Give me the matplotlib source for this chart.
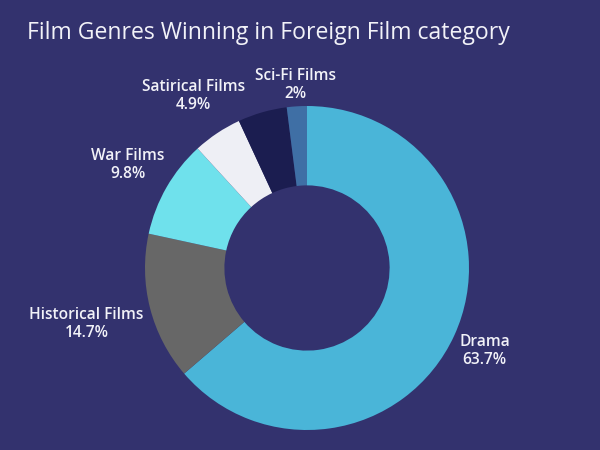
import matplotlib
matplotlib.use("Agg")
import matplotlib.pyplot as plt
import numpy as np

categories = ["Drama", "Historical Films", "War Films", "Satirical Films", "", "Sci-Fi Films"]
values = [63.7, 14.7, 9.8, 4.9, 4.9, 2.0]
pct_labels = ["63.7%", "14.7%", "9.8%", "4.9%", "", "2%"]
colors = ["#4ab5d8", "#676767", "#6fe1ec", "#eeeff5", "#1b1d50", "#3f6fa5"]

# label layout: distance from centre, angle nudge in degrees
label_dist = [1.21, 1.405, 1.275, 1.27, 1.2, 1.13]
label_nudge = [-0.3, 0, 0, -0.3, 0, 0]

BG = "#33326e"
plt.rcParams['font.family'] = ['Open Sans', 'DejaVu Sans']

fig = plt.figure(figsize=(6, 4.5), dpi=100, facecolor=BG)
ax = fig.add_axes([0, 0, 1, 1])
ax.set_facecolor(BG)

wedges, _ = ax.pie(values, colors=colors, startangle=90, counterclock=False,
                   radius=1.0, wedgeprops=dict(width=0.49, linewidth=0))

for w, cat, pct, d, nud in zip(wedges, categories, pct_labels, label_dist, label_nudge):
    if not cat:
        continue
    ang = np.deg2rad((w.theta1 + w.theta2) / 2 + nud)
    x, y = d * np.cos(ang), d * np.sin(ang)
    ax.text(x, y, f"{cat}\n{pct}", ha="center", va="center", color="#f2f2f8",
            fontsize=11.2, fontweight="semibold", linespacing=1.15)

ax.set_xlim(-307 / 162, (600 - 307) / 162)
ax.set_ylim(-(450 - 268) / 162, 268 / 162)
ax.set_aspect("auto")
ax.axis("off")

fig.text(27 / 600, 1 - 33 / 450, "Film Genres Winning in Foreign Film category",
         color="#f2f2f8", fontsize=16.6, ha="left", va="center")

fig.savefig("out.png", dpi=100, facecolor=BG)
